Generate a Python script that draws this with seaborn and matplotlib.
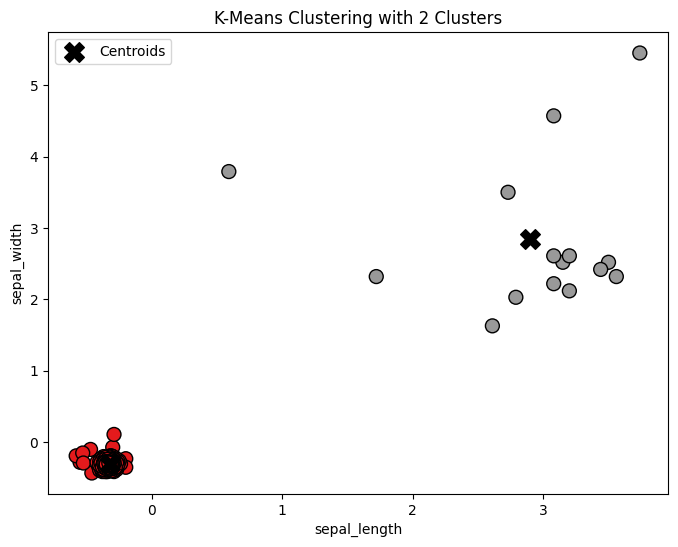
import pandas as pd
import matplotlib
matplotlib.use('Agg')
import matplotlib.pyplot as plt
import seaborn as sns

# valores
rojo_x = [-0.46, -0.55, -0.58, -0.47, -0.53, -0.30, -0.29, -0.20, -0.20, -0.525,
          -0.24, -0.25, -0.41, -0.42, -0.40, -0.27, -0.28, -0.39, -0.38, -0.29,
          -0.29, -0.37, -0.31, -0.35, -0.27, -0.39, -0.32, -0.34, -0.28, -0.38,
          -0.30, -0.36, -0.26, -0.40, -0.33, -0.29, -0.37, -0.31, -0.35, -0.27,
          -0.39, -0.30, -0.36, -0.28, -0.38, -0.32, -0.34, -0.26, -0.40, -0.33,
          -0.29, -0.37, -0.30, -0.36, -0.27, -0.39, -0.31, -0.35, -0.28, -0.38,
          -0.32, -0.34, -0.30, -0.36, -0.33, -0.29, -0.37, -0.31, -0.35, -0.29,
          -0.37, -0.30, -0.36, -0.33, -0.31, -0.35, -0.32, -0.34, -0.30, -0.36,
          -0.31, -0.35, -0.33, -0.32, -0.34, -0.31, -0.33, -0.35, -0.32, -0.33]
rojo_y = [-0.43, -0.28, -0.19, -0.10, -0.15, -0.07, 0.11, -0.23, -0.35, -0.29,
          -0.30, -0.26, -0.33, -0.28, -0.39, -0.37, -0.24, -0.25, -0.41, -0.33,
          -0.41, -0.20, -0.19, -0.41, -0.38, -0.23, -0.19, -0.41, -0.22, -0.39,
          -0.20, -0.41, -0.27, -0.27, -0.20, -0.39, -0.22, -0.40, -0.21, -0.35,
          -0.36, -0.22, -0.39, -0.26, -0.25, -0.22, -0.39, -0.31, -0.32, -0.38,
          -0.24, -0.38, -0.37, -0.24, -0.29, -0.29, -0.24, -0.37, -0.35, -0.34,
          -0.36, -0.24, -0.25, -0.35, -0.35, -0.27, -0.28, -0.34, -0.27, -0.30,
          -0.30, -0.33, -0.33, -0.27, -0.28, -0.32, -0.33, -0.28, -0.30, -0.29,
          -0.31, -0.30, -0.32, -0.29, -0.31, -0.30, -0.30, -0.31, -0.31, -0.29]
gris_x = [3.74, 3.08, 0.59, 2.73, 1.72, 3.15, 3.08, 3.20, 3.50, 3.44, 3.56, 3.08, 3.20, 2.79, 2.61]
gris_y = [5.45, 4.57, 3.79, 3.50, 2.32, 2.52, 2.61, 2.61, 2.52, 2.42, 2.32, 2.22, 2.12, 2.03, 1.63]
centroide_x = [-0.32, 2.90]
centroide_y = [-0.30, 2.84]

datos = pd.DataFrame({
    'sepal_length': rojo_x + gris_x,
    'sepal_width': rojo_y + gris_y,
    'cluster': [0] * len(rojo_x) + [1] * len(gris_x),
})

fig = plt.figure(figsize=(6.78, 5.47), dpi=100)
ax = fig.add_axes([48 / 678, 1 - 494 / 547, 620 / 678, 462 / 547])

sns.scatterplot(data=datos, x='sepal_length', y='sepal_width', hue='cluster',
                palette=['#e41a1c', '#999999'], s=100, edgecolor='black',
                linewidth=1.0, legend=False, ax=ax)
ax.scatter(centroide_x, centroide_y, s=200, c='black', marker='X', label='Centroids')

ax.set_title('K-Means Clustering with 2 Clusters')
ax.set_xlabel('sepal_length')
ax.set_ylabel('sepal_width')
ax.legend(loc='upper left')
fig.savefig('out.png', dpi=100)
